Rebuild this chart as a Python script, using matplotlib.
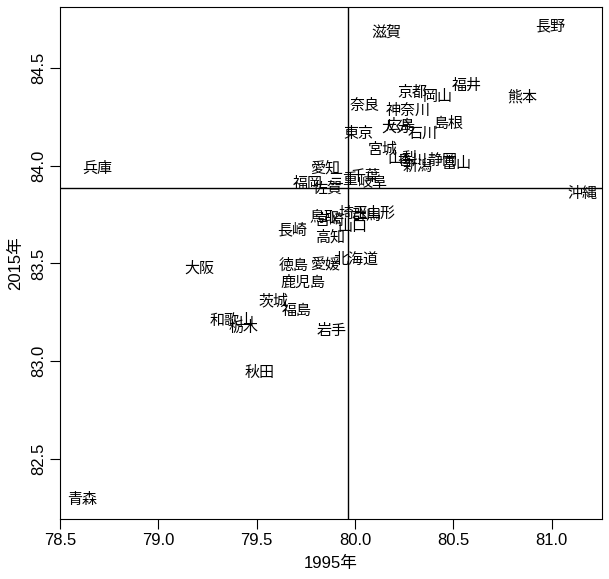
import numpy as np
import matplotlib
matplotlib.use("Agg")
import matplotlib.pyplot as plt

# prefecture labels and values (x = 1995, y = 2015)
prefs = ["北海道", "青森", "岩手", "宮城", "秋田", "山形", "福島", "茨城", "栃木", "群馬",
         "埼玉", "千葉", "東京", "神奈川", "新潟", "富山", "石川", "福井", "山梨", "長野",
         "岐阜", "静岡", "愛知", "三重", "滋賀", "京都", "大阪", "兵庫", "奈良", "和歌山",
         "鳥取", "島根", "岡山", "広島", "山口", "徳島", "香川", "愛媛", "高知", "福岡",
         "佐賀", "長崎", "熊本", "大分", "宮崎", "鹿児島", "沖縄"]
y1995 = [80.005, 78.612, 79.883, 80.142, 79.517, 80.127, 79.705, 79.588, 79.435, 80.061,
         79.990, 80.051, 80.015, 80.269, 80.320, 80.518, 80.345, 80.569, 80.239, 80.991,
         80.091, 80.442, 79.847, 79.939, 80.162, 80.290, 79.207, 78.688, 80.051, 79.374,
         79.842, 80.473, 80.422, 80.229, 79.985, 79.690, 80.290, 79.847, 79.873, 79.761,
         79.862, 79.679, 80.849, 80.208, 79.873, 79.735, 81.154]
y2015 = [83.520, 82.291, 83.153, 84.082, 82.939, 83.755, 83.255, 83.306, 83.173, 83.745,
         83.755, 83.944, 84.163, 84.281, 83.995, 84.010, 84.163, 84.408, 84.036, 84.714,
         83.913, 84.026, 83.985, 83.929, 84.679, 84.372, 83.474, 83.985, 84.306, 83.204,
         83.730, 84.214, 84.352, 84.204, 83.684, 83.490, 84.026, 83.490, 83.633, 83.908,
         83.883, 83.673, 84.347, 84.194, 83.719, 83.403, 83.857]
# reference lines (national values)
ref_1995 = 79.963
ref_2015 = 83.886
xticks = [78.5, 79.0, 79.5, 80.0, 80.5, 81.0]
yticks = [82.5, 83.0, 83.5, 84.0, 84.5]

axis_font = ["Liberation Sans", "Noto Sans CJK JP"]
label_font = ["Noto Sans CJK JP", "DejaVu Sans"]

fig = plt.figure(figsize=(6.09, 5.79), dpi=100)
ax = fig.add_axes([60 / 609, 1 - 519 / 579, 542 / 609, 512 / 579])

x = np.array(y1995)
y = np.array(y2015)

# R style 4% padding around the data
xr = x.max() - x.min()
yr = y.max() - y.min()
ax.set_xlim(x.min() - 0.04 * xr, x.max() + 0.04 * xr)
ax.set_ylim(y.min() - 0.04 * yr, y.max() + 0.04 * yr)

for name, xi, yi in zip(prefs, x, y):
    ax.text(xi, yi, name, ha="center", va="center", fontsize=10.8,
            family=label_font, color="black")

ax.axvline(ref_1995, color="black", lw=1)
ax.axhline(ref_2015, color="black", lw=1)

ax.set_xticks(xticks)
ax.set_yticks(yticks)
ax.set_xticklabels([f"{v:.1f}" for v in xticks], family=axis_font, fontsize=12)
ax.set_yticklabels([f"{v:.1f}" for v in yticks], family=axis_font, fontsize=12,
                   rotation=90, va="center")
ax.tick_params(length=7, width=0.8, color="black", pad=3)
for s in ax.spines.values():
    s.set_linewidth(0.8)
    s.set_color("black")

ax.set_xlabel("1995年", family=axis_font, fontsize=12, labelpad=6)
ax.set_ylabel("2015年", family=axis_font, fontsize=12, labelpad=6)

fig.savefig("out.png", dpi=100)
